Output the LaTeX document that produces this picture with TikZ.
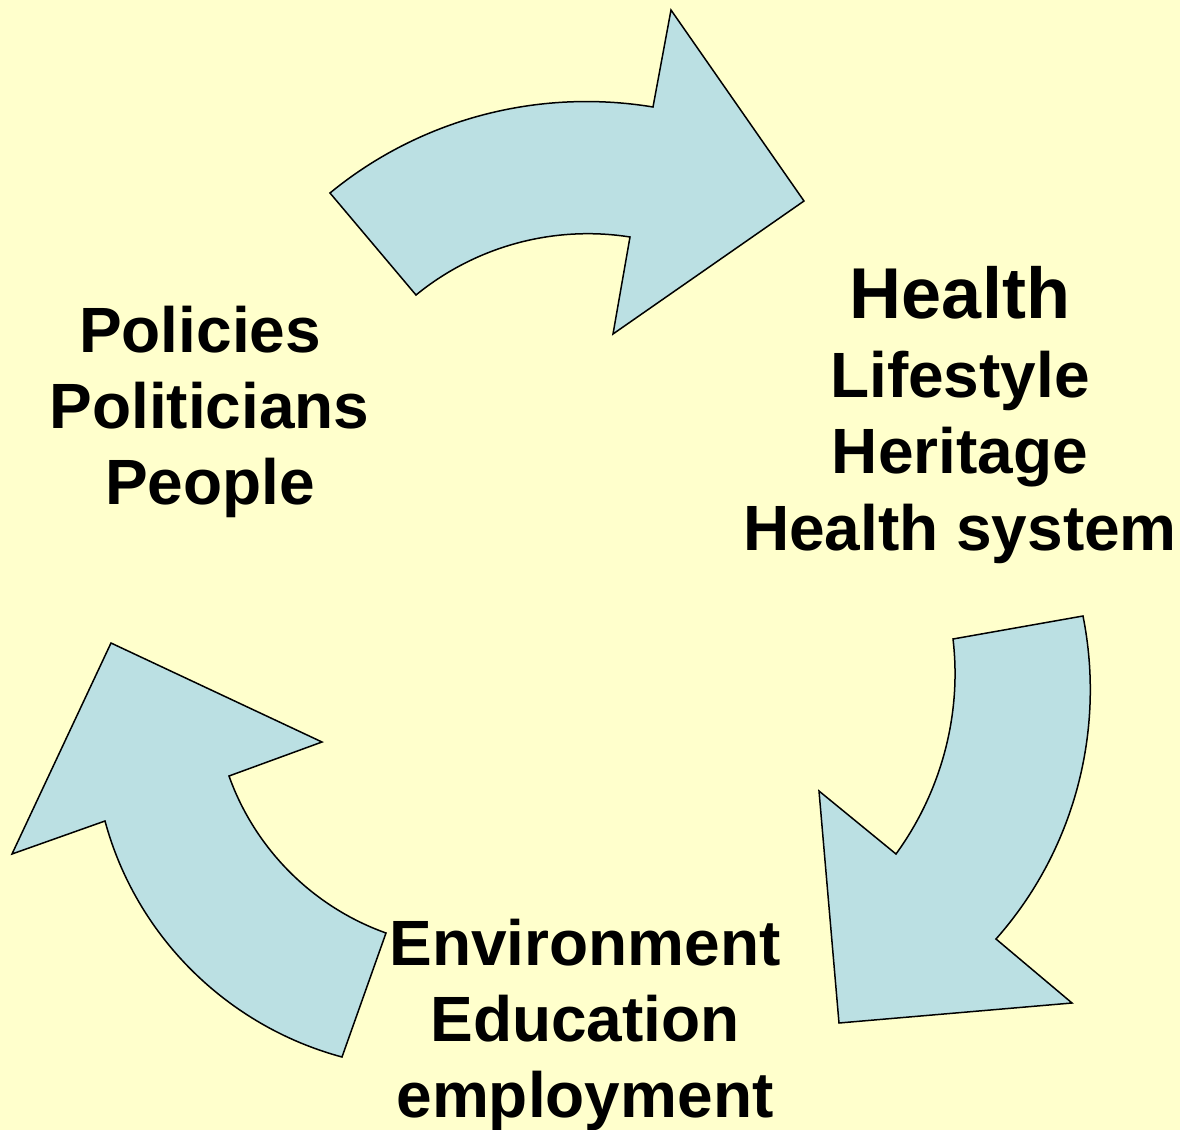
\documentclass[tikz,border=0pt]{standalone}
\usepackage{fontspec}
\setmainfont{Liberation Sans}
\usepackage{tikz}
\definecolor{bgyellow}{HTML}{FFFFCC}
\definecolor{arrowblue}{HTML}{BBE0E3}
\tikzset{
    bend arrow/.style={fill=arrowblue, draw=black, line width=0.75pt},
    label big/.style={anchor=base, inner sep=0pt, font=\fontsize{36}{43}\selectfont\bfseries},
    label txt/.style={anchor=base, inner sep=0pt, font=\fontsize{32}{38}\selectfont\bfseries}
}

\begin{document}
\begin{tikzpicture}[x=0.5pt, y=-0.5pt]
    % background
    \fill[bgyellow] (0,0) rectangle (1180,1130);
    \useasboundingbox (0,0) rectangle (1180,1130);

    % draw arrows
    \draw[bend arrow] (330,193) .. controls (420,119) and (538,88) .. (653,107) -- (671,10) -- (804,201)
        -- (613,334) -- (630,237) .. controls (554,225) and (476,246) .. (416,295) -- cycle;
    \draw[bend arrow] (953,639) -- (1083,616) .. controls (1106,731) and (1074,851) .. (996,939) -- (1072,1003)
        -- (839,1023) -- (819,791) -- (896,854) .. controls (941,792) and (962,715) .. cycle;
    \draw[bend arrow] (386,933) -- (342,1057) .. controls (227,1026) and (136,936) .. (105,821) -- (12,854)
        -- (111,643) -- (322,742) -- (229,776) .. controls (255,849) and (313,907) .. cycle;

    % draw labels
    \node[label txt] (policies) at (200,352) {Policies};
    \node[label txt] (politicians) at (209.5,428) {Politicians};
    \node[label txt] (people) at (210,504) {People};

    \node[label big] (health) at (960,318) {Health};
    \node[label txt] (lifestyle) at (960,397) {Lifestyle};
    \node[label txt] (heritage) at (960,473) {Heritage};
    \node[label txt] (hsystem) at (960,550) {Health system};

    \node[label txt] (environment) at (585,965) {Environment};
    \node[label txt] (education) at (585,1041) {Education};
    \node[label txt] (employment) at (585,1117) {employment};
\end{tikzpicture}
\end{document}
